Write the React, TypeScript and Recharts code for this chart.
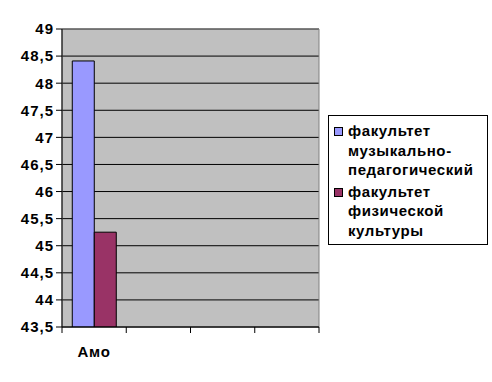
import React from 'react'
import { BarChart, Bar, XAxis, YAxis, CartesianGrid, ReferenceArea } from 'recharts'

// categories on the x axis (only the first one carries data)
const categories = ['Амо', '', '', '']
const musicPed = [48.41, null, null, null]
const physCult = [45.25, null, null, null]
const yTicks = [43.5, 44, 44.5, 45, 45.5, 46, 46.5, 47, 47.5, 48, 48.5, 49]

const seriesLines = [
  ['факультет', 'музыкально-', 'педагогический'],
  ['факультет', 'физической', 'культуры'],
]
const seriesColors = ['#9999FF', '#993366']

const data = categories.map((c, i) => ({ name: c, a: musicPed[i], b: physCult[i] }))

const W = 492
const H = 382
const margin = { top: 29, right: 173, left: 0, bottom: 0 }
const yAxisW = 62
const plotW = W - margin.left - margin.right - yAxisW
const band = plotW / categories.length
const font = 'Liberation Sans, Arial, sans-serif'

const XTick = (props: any) => {
  const { x, y, payload, index } = props
  const left = x - band / 2
  return (
    <g>
      <line x1={left} y1={y - 8} x2={left} y2={y - 2} stroke="#000" />
      {index === categories.length - 1 && (
        <line x1={x + band / 2} y1={y - 8} x2={x + band / 2} y2={y - 2} stroke="#000" />
      )}
      <text x={x} y={y + 22} textAnchor="middle" fontSize={15} fontWeight="bold" letterSpacing={0.8} fontFamily={font} fill="#000">
        {payload.value}
      </text>
    </g>
  )
}

const LegendBox = () => (
  <div style={{ position: 'absolute', left: 328, top: 115, width: 153, border: '1px solid #000', background: '#fff', padding: '5px 0 4px 5px', fontFamily: font, fontSize: 15, fontWeight: 'bold', lineHeight: '19.5px', color: '#000', letterSpacing: 0.6 }}>
    {seriesLines.map((lines, i) => (
      <div key={i} style={{ display: 'flex', alignItems: 'flex-start', marginBottom: i === 0 ? 2 : 0 }}>
        <span style={{ display: 'inline-block', width: 7, height: 7, border: '1px solid #000', background: seriesColors[i], marginTop: 6, marginRight: 5, flexShrink: 0 }} />
        <div>
          {lines.map((l, j) => <div key={j}>{l}</div>)}
        </div>
      </div>
    ))}
  </div>
)

export default function App() {
  return (
    <div style={{ position: 'absolute', left: 0, top: 0, width: W, height: H, background: '#fff' }}>
      <BarChart width={W} height={H} data={data} margin={margin} barCategoryGap="16%" barGap={0}>
        <CartesianGrid fill="#C0C0C0" fillOpacity={1} stroke="#000" vertical={false} strokeOpacity={1} />
        <ReferenceArea y1={43.5} y2={49} fill="none" stroke="#808080" ifOverflow="visible" />
        <XAxis dataKey="name" stroke="#000" tickLine={false} height={55} tick={<XTick />} interval={0} />
        <YAxis
          domain={[43.5, 49]}
          ticks={yTicks}
          interval={0}
          width={yAxisW}
          stroke="#000"
          tickSize={6}
          tick={{ fill: '#000', fontSize: 15, fontWeight: 'bold', fontFamily: font, letterSpacing: 1 } as any}
          tickFormatter={(v: number) => String(v).replace('.', ',')}
          allowDataOverflow
        />
        <Bar dataKey="a" fill={seriesColors[0]} stroke="#000" isAnimationActive={false} />
        <Bar dataKey="b" fill={seriesColors[1]} stroke="#000" isAnimationActive={false} />
      </BarChart>
      <LegendBox />
    </div>
  )
}
